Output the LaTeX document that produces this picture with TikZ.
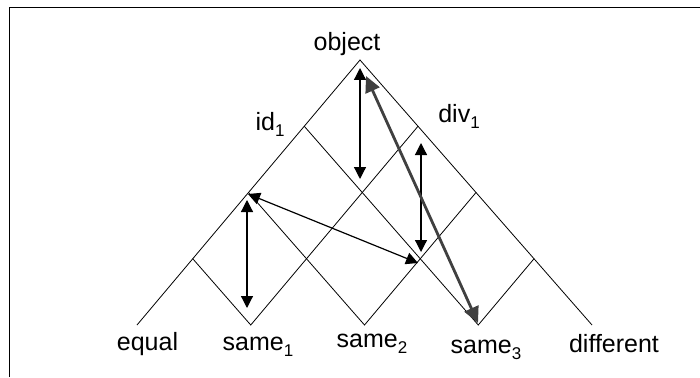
\documentclass[tikz,border=0pt]{standalone}
\usepackage{fontspec}
\setmainfont{Liberation Sans}
\usetikzlibrary{arrows.meta,positioning,calc}

\newcommand{\lsub}[1]{\raisebox{-6pt}{\fontsize{17}{20}\selectfont #1}}

\tikzset{
    lattice/.style={line width=0.8pt},
    link/.style={line width=1.2pt,
        {Triangle[length=12pt,width=12pt]}-{Triangle[length=12pt,width=12pt]}},
    biglink/.style={line width=2.8pt,draw=black!75,
        {Triangle[length=16pt,width=15pt]}-{Triangle[length=16pt,width=15pt]}},
    lbl/.style={font=\fontsize{25}{30}\selectfont,inner sep=0pt,anchor=base}
}

\begin{document}
\begin{tikzpicture}[x=1pt,y=-1pt]
    \useasboundingbox (0,0) rectangle (700,377);
    \draw[line width=1.4pt] (9.5,377) -- (9.5,7.5) -- (700,7.5);

    % corners of the lattice
    \coordinate (obj) at (360,60);
    \coordinate (eq) at (137,325);
    \coordinate (df) at (592,325);
    \coordinate (s1) at ($(eq)!0.25!(df)$);
    \coordinate (s2) at ($(eq)!0.5!(df)$);
    \coordinate (s3) at ($(eq)!0.75!(df)$);
    \coordinate (l1) at ($(eq)!0.25!(obj)$);
    \coordinate (l2) at ($(eq)!0.5!(obj)$);
    \coordinate (l3) at ($(eq)!0.75!(obj)$);
    \coordinate (r1) at ($(df)!0.25!(obj)$);
    \coordinate (r2) at ($(df)!0.5!(obj)$);
    \coordinate (r3) at ($(df)!0.75!(obj)$);

    \draw[lattice] (eq) -- (obj) -- (df);
    \draw[lattice] (l1) -- (s1) -- (r3);
    \draw[lattice] (l2) -- (s2) -- (r2);
    \draw[lattice] (l3) -- (s3) -- (r1);

    \node[lbl] (lobj) at (347,51) {object};
    \node[lbl] (lid) at (270,130) {id\lsub{1}};
    \node[lbl] (ldiv) at (459,122) {div\lsub{1}};
    \node[lbl] (leq) at (147.5,350) {equal};
    \node[lbl] (ls1) at (258,350) {same\lsub{1}};
    \node[lbl] (ls2) at (372,347) {same\lsub{2}};
    \node[lbl] (ls3) at (486,353) {same\lsub{3}};
    \node[lbl] (ldf) at (614,352) {different};

    % arrow ends
    \coordinate (a1t) at (360,68);
    \coordinate (a1b) at (360,179);
    \coordinate (a2t) at (421,143);
    \coordinate (a2b) at (421,252);
    \coordinate (a3t) at (247,200);
    \coordinate (a3b) at (247,308);
    \coordinate (a4l) at (248,194);
    \coordinate (a4r) at (418,263);
    \coordinate (a5t) at (366,76);
    \coordinate (a5b) at (478,323);

    \draw[link] (a1t) -- (a1b);
    \draw[link] (a2t) -- (a2b);
    \draw[link] (a3t) -- (a3b);
    \draw[link] (a4l) -- (a4r);
    \draw[biglink] (a5t) -- (a5b);
\end{tikzpicture}
\end{document}
